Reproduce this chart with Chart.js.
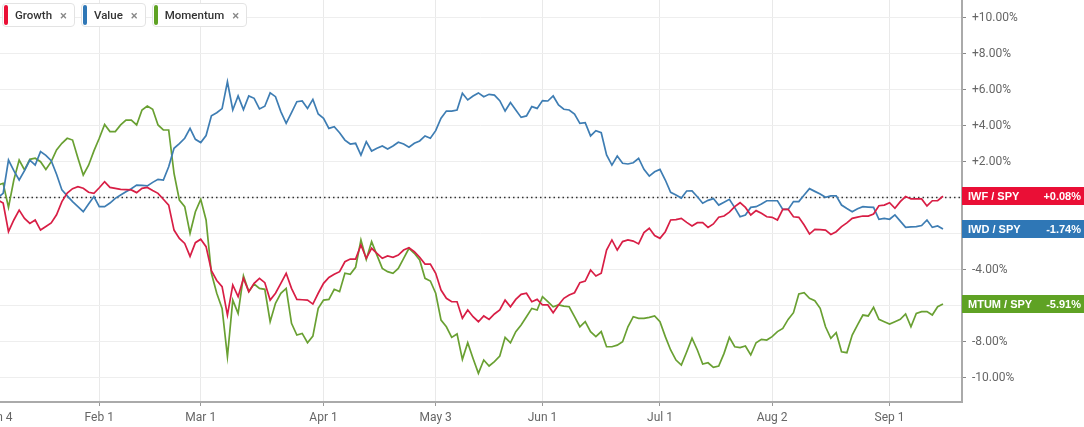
<!DOCTYPE html>
<html>
<head>
<meta charset="utf-8">
<script src="https://cdn.jsdelivr.net/npm/chart.js@4.4.0/dist/chart.umd.min.js"></script>
<style>
  body { margin: 0; background: #fff; font-family: Roboto, Arial, sans-serif; }
  #wrap { position: relative; width: 1084px; height: 427px; overflow: hidden; }
  #legend { position: absolute; left: 2px; top: 3px; display: flex; z-index: 2; }
  .chip { display: flex; align-items: center; box-sizing: border-box; height: 24px; border: 1px solid #e3e3e3;
          border-radius: 4px; background: #fff; font-size: 11.5px; font-weight: 500; color: #333; margin-right: 6px; }
  .chip .bar { width: 4px; height: 20px; border-radius: 2px; margin: 0 7px 0 1px; }
  .chip .x { color: #888; margin: 0 7px 0 8px; font-size: 13px; }
</style>
</head>
<body>
<div id="wrap">
  <div id="legend"></div>
  <canvas id="relChart"></canvas>
</div>
<script>
// x ticks: trading-day index since Jan 4 2021
const tickIdx = [0, 19, 38, 61, 82, 102, 124, 145, 167];
const tickLabels = ['Jan 4', 'Feb 1', 'Mar 1', 'Apr 1', 'May 3', 'Jun 1', 'Jul 1', 'Aug 2', 'Sep 1'];
const yTicks = [-10, -8, -6, -4, -2, 0, 2, 4, 6, 8, 10];

const seriesNames = ['Growth', 'Value', 'Momentum'];
const tickers = ['IWF / SPY', 'IWD / SPY', 'MTUM / SPY'];
const lineColors = ['#d81e45', '#3e7db3', '#69a032'];
const boxColors = ['#ea0f36', '#2f77b6', '#5fa224'];

// relative performance vs SPY, %, one value per trading day
const growth = [
  -0.13, -0.3, -1.89, -1.24, -0.69, -1.15, -1.43, -1.24, -1.8, -1.6,
  -1.4, -0.95, -0.22, 0.25, 0.5, 0.61, 0.52, 0.3, 0.24, 0.55,
  0.89, 0.57, 0.52, 0.46, 0.45, 0.43, 0.28, 0.52, 0.57, 0.4,
  0.24, -0.09, -0.41, -1.8, -2.26, -2.54, -3.26, -2.5, -2.31, -2.72,
  -4.05, -4.6, -4.94, -6.52, -4.85, -5.5, -4.48, -5.22, -4.76, -4.48,
  -4.72, -5.69, -5.31, -4.76, -4.2, -5.04, -5.65, -5.67, -5.69, -5.91,
  -5.31, -4.76, -4.43, -4.26, -4.11, -3.56, -3.41, -3.41, -2.63, -3.37,
  -2.81, -3.09, -3.37, -3.24, -3.31, -3.19, -2.91, -2.78, -3.0, -3.31,
  -3.69, -3.69, -4.2, -5.13, -5.59, -5.78, -5.78, -6.7, -6.24, -6.61,
  -6.89, -6.57, -6.76, -6.46, -6.24, -5.69, -6.06, -5.65, -5.37, -5.31,
  -5.78, -5.65, -5.96, -5.96, -6.39, -5.96, -5.59, -5.41, -5.28, -4.72,
  -4.63, -4.02, -4.35, -4.2, -2.91, -2.35, -2.91, -2.44, -2.35, -2.41,
  -2.57, -1.94, -1.7, -2.1, -2.26, -1.89, -1.24, -1.22, -1.15, -1.37,
  -1.57, -1.39, -1.39, -1.65, -1.46, -1.09, -1.02, -0.8, -0.5, -0.28,
  -0.54, -0.96, -0.72, -0.87, -1.06, -1.09, -1.24, -0.65, -0.65, -1.06,
  -1.09, -1.52, -2.02, -1.76, -1.78, -1.8, -2.04, -1.89, -1.61, -1.4,
  -1.15, -1.08, -1.02, -1.02, -0.91, -0.45, -0.41, -0.28, -0.59, -0.22,
  0.06, -0.07, -0.07, -0.07, -0.46, -0.17, -0.17, 0.08
];
const value = [
  0.0, 0.24, 2.09, 1.5, 0.98, 1.5, 2.09, 1.81, 2.56, 2.35,
  2.05, 1.3, 0.43, 0.1, -0.22, -0.5, -0.78, -0.35, 0.06, -0.5,
  -0.5, -0.3, -0.04, 0.15, 0.33, 0.5, 0.7, 0.68, 0.65, 0.85,
  1.02, 0.98, 1.72, 2.74, 3.0, 3.3, 3.85, 3.24, 3.06, 3.45,
  4.55, 4.72, 4.95, 6.44, 4.87, 5.65, 4.89, 5.65, 5.52, 4.93,
  5.08, 5.82, 5.61, 4.78, 4.13, 4.72, 5.33, 5.37, 4.96, 5.46,
  4.65, 4.41, 3.85, 3.94, 3.61, 3.2, 2.98, 3.02, 2.37, 3.11,
  2.59, 2.74, 2.87, 2.7, 2.87, 3.08, 2.98, 2.8, 3.02, 3.15,
  3.43, 3.3, 3.72, 4.41, 4.81, 4.81, 4.87, 5.8, 5.43, 5.65,
  5.82, 5.61, 5.74, 5.7, 5.39, 4.81, 5.28, 4.87, 4.46, 4.54,
  5.06, 4.96, 5.39, 5.37, 5.65, 5.15, 4.91, 4.87, 4.65, 4.13,
  4.17, 3.43, 3.72, 3.61, 2.37, 1.81, 2.31, 1.91, 1.87, 1.94,
  2.19, 1.57, 1.2, 1.44, 1.57, 0.98, 0.3, 0.15, -0.02, 0.37,
  0.38, 0.05, -0.31, -0.15, -0.05, -0.41, -0.25, -0.09, -0.55, -1.06,
  -0.96, -0.54, -0.5, -0.35, -0.17, -0.17, -0.17, -0.65, -0.65, -0.22,
  -0.22, 0.15, 0.5, 0.35, 0.2, 0.02, 0.1, 0.1, -0.41, -0.6,
  -0.78, -0.62, -0.5, -0.52, -0.54, -1.2, -1.15, -1.2, -0.96, -1.3,
  -1.65, -1.62, -1.61, -1.55, -1.24, -1.65, -1.57, -1.74
];
const momentum = [
  0.7, 0.8, -0.54, 0.98, 2.09, 1.54, 2.13, 2.19, 2.0, 1.57,
  2.0, 2.65, 3.02, 3.3, 3.2, 2.2, 1.26, 1.8, 2.6, 3.3,
  4.07, 3.67, 3.67, 4.04, 4.31, 4.31, 4.04, 4.87, 5.09, 4.91,
  4.04, 3.76, 3.76, 1.35, -0.13, -0.5, -1.98, -0.78, -0.09, -1.24,
  -4.2, -5.31, -6.15, -8.83, -5.69, -6.43, -4.35, -5.22, -4.8, -5.04,
  -5.09, -6.89, -5.87, -5.31, -5.04, -6.98, -7.63, -7.54, -8.06, -7.69,
  -6.15, -5.69, -5.65, -5.09, -5.22, -4.2, -4.26, -3.87, -2.35, -3.43,
  -2.44, -3.19, -3.93, -4.11, -4.2, -3.93, -3.37, -2.81, -3.09, -3.46,
  -4.48, -4.63, -5.31, -6.8, -7.17, -7.76, -7.57, -8.98, -8.06, -8.93,
  -9.76, -9.02, -9.35, -9.11, -8.8, -7.76, -8.06, -7.44, -7.07, -6.61,
  -6.15, -6.24, -5.5, -5.78, -6.06, -5.96, -6.02, -6.06, -6.61, -7.17,
  -6.89, -7.44, -7.72, -7.44, -8.28, -8.28, -8.19, -8.0, -7.17, -6.61,
  -6.7, -6.7, -6.65, -6.57, -6.89, -7.72, -8.46, -9.02, -9.3, -8.57,
  -7.81, -8.46, -9.24, -9.17, -9.43, -9.35, -8.65, -7.76, -8.28, -8.33,
  -8.24, -8.74, -8.06, -7.87, -7.91, -7.72, -7.44, -7.26, -6.76, -6.39,
  -5.35, -5.28, -5.59, -5.72, -6.15, -7.17, -7.81, -7.5, -8.56, -8.61,
  -7.63, -7.07, -6.52, -6.57, -6.09, -6.76, -6.89, -7.02, -6.89, -6.76,
  -6.46, -7.17, -6.43, -6.33, -6.33, -6.52, -6.06, -5.91
];

// legend chips
const legend = document.getElementById('legend');
seriesNames.forEach((name, i) => {
  const chip = document.createElement('div');
  chip.className = 'chip';
  chip.innerHTML = `<span class="bar" style="background:${boxColors[i]}"></span><span>${name}</span><span class="x">×</span>`;
  legend.appendChild(chip);
});

// dotted zero line
const zeroLine = {
  id: 'zeroLine',
  beforeDatasetsDraw(chart) {
    const { ctx, chartArea: a, scales: { y } } = chart;
    const py = Math.round(y.getPixelForValue(0)) - 0.5;
    ctx.save();
    ctx.setLineDash([1.5, 3]);
    ctx.strokeStyle = '#333';
    ctx.lineWidth = 1.3;
    ctx.beginPath();
    ctx.moveTo(a.left, py);
    ctx.lineTo(a.right, py);
    ctx.stroke();
    ctx.restore();
  }
};

// coloured last-value boxes on the right axis
const endLabels = {
  id: 'endLabels',
  afterDraw(chart) {
    const { ctx, chartArea: a, scales: { y } } = chart;
    ctx.save();
    chart.data.datasets.forEach((ds, i) => {
      const last = ds.data[ds.data.length - 1].y;
      const py = Math.round(y.getPixelForValue(last));
      ctx.fillStyle = boxColors[i];
      ctx.fillRect(a.right, py - 9, chart.width - a.right, 18);
      ctx.fillStyle = '#fff';
      ctx.font = 'bold 11px "Liberation Sans", Arial, sans-serif';
      ctx.textBaseline = 'middle';
      ctx.textAlign = 'left';
      ctx.fillText(tickers[i], a.right + 6, py + 0.5);
      ctx.textAlign = 'right';
      ctx.fillText((last > 0 ? '+' : '') + last.toFixed(2) + '%', chart.width - 3, py + 0.5);
    });
    ctx.restore();
  }
};

const ctx = document.getElementById('relChart').getContext('2d');
new Chart(ctx, {
  type: 'line',
  data: {
    datasets: [growth, value, momentum].map((arr, i) => ({
      label: seriesNames[i],
      data: arr.map((v, j) => ({ x: j, y: v })),
      borderColor: lineColors[i],
      borderWidth: 1.7,
      pointRadius: 0,
      tension: 0,
      fill: false
    }))
  },
  options: {
    responsive: true,
    maintainAspectRatio: false,
    animation: false,
    layout: { padding: 0 },
    plugins: { legend: { display: false }, tooltip: { enabled: false } },
    scales: {
      x: {
        type: 'linear',
        min: 0.41,
        max: 180.56,
        afterBuildTicks: s => { s.ticks = tickIdx.map(v => ({ value: v })); },
        afterFit: s => { s.height = 25; s.paddingLeft = 0; s.paddingRight = 0; },
        ticks: {
          callback: (v, idx) => tickLabels[idx],
          color: '#666',
          font: { size: 12, family: 'Roboto' },
          padding: 5,
          maxRotation: 0,
          autoSkip: false
        },
        grid: { color: '#e9e9e9', tickColor: '#999', tickLength: 4 },
        border: { color: '#aaa', width: 2 }
      },
      y: {
        position: 'right',
        min: -11.35,
        max: 10.98,
        afterBuildTicks: s => { s.ticks = yTicks.map(v => ({ value: v })); },
        afterFit: s => { s.width = 122; s.paddingTop = 0; s.paddingBottom = 0; },
        ticks: {
          callback: v => (v > 0 ? '+' : '') + v.toFixed(2) + '%',
          color: '#666',
          font: { size: 12, family: 'Roboto' },
          padding: 6
        },
        grid: { color: '#eee', tickColor: '#888', tickLength: 4 },
        border: { color: '#aaa', width: 2 }
      }
    }
  },
  plugins: [zeroLine, endLabels]
});
</script>
</body>
</html>
